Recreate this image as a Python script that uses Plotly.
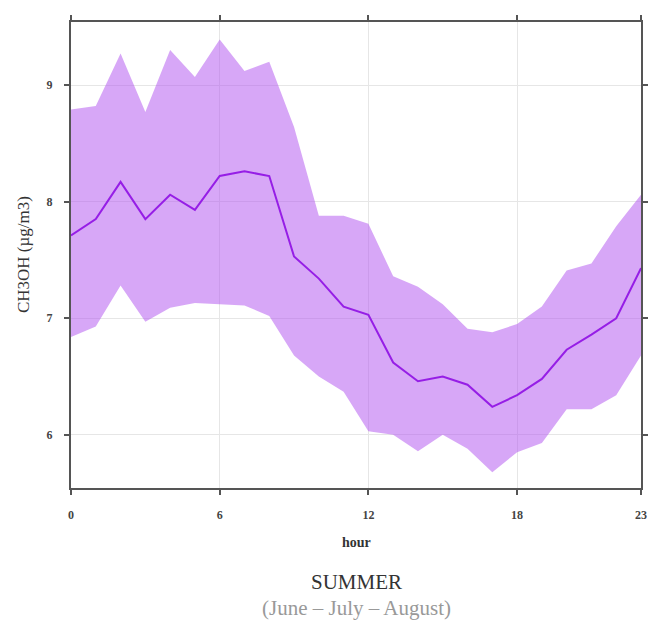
import plotly.graph_objects as go

hours = list(range(24))
mean_vals = [7.71, 7.85, 8.17, 7.85, 8.06, 7.93, 8.22, 8.26, 8.22, 7.53, 7.34, 7.10,
             7.03, 6.62, 6.46, 6.50, 6.43, 6.24, 6.34, 6.48, 6.73, 6.86, 7.00, 7.43]
upper_vals = [8.79, 8.82, 9.27, 8.77, 9.30, 9.07, 9.39, 9.12, 9.20, 8.64, 7.88, 7.88,
              7.81, 7.36, 7.27, 7.12, 6.91, 6.88, 6.95, 7.10, 7.41, 7.47, 7.79, 8.06]
lower_vals = [6.84, 6.93, 7.28, 6.97, 7.09, 7.13, 7.12, 7.11, 7.02, 6.68, 6.50, 6.37,
              6.03, 6.00, 5.86, 6.00, 5.88, 5.68, 5.85, 5.93, 6.22, 6.22, 6.34, 6.68]
x_ticks = [0, 6, 12, 18, 23]
y_ticks = [6, 7, 8, 9]

serif = "Liberation Serif, DejaVu Serif, serif"

fig = go.Figure()
fig.add_trace(go.Scatter(x=hours, y=upper_vals, mode="lines", line=dict(width=0),
                         showlegend=False, hoverinfo="skip"))
fig.add_trace(go.Scatter(x=hours, y=lower_vals, mode="lines", line=dict(width=0),
                         fill="tonexty", fillcolor="rgba(175,80,240,0.5)",
                         showlegend=False, hoverinfo="skip"))
fig.add_trace(go.Scatter(x=hours, y=mean_vals, mode="lines",
                         line=dict(color="rgb(150,30,230)", width=2),
                         showlegend=False))

axis_common = dict(showline=True, linecolor="#555555", linewidth=2, mirror="allticks",
                   ticks="outside", ticklen=5, tickwidth=1.5, tickcolor="#555555",
                   showgrid=True, gridcolor="#e6e6e6", gridwidth=1, zeroline=False,
                   tickfont=dict(family=serif, size=12, color="#444444", weight="bold"))

fig.update_xaxes(range=[0, 23], tickvals=x_ticks, ticktext=[str(v) for v in x_ticks],
                 ticklabelstandoff=10, **axis_common)
fig.update_yaxes(range=[5.544, 9.541], tickvals=y_ticks, ticktext=[str(v) for v in y_ticks],
                 ticklabelstandoff=9, **axis_common)

# page body has an 8px default margin; compensate so the plot area lands at l=71,t=15
fig.update_layout(
    width=659, height=628,
    margin=dict(l=63, r=26, t=7, b=148),
    paper_bgcolor="white", plot_bgcolor="white",
    annotations=[
        dict(text="CH3OH (µg/m3)", x=-0.084, y=0.5, xref="paper", yref="paper",
             textangle=-90, showarrow=False, xanchor="center", yanchor="middle",
             font=dict(family=serif, size=17, color="#333333")),
        dict(text="<b>hour</b>", x=0.5, y=-0.1163, xref="paper", yref="paper",
             showarrow=False, xanchor="center", yanchor="middle",
             font=dict(family=serif, size=14, color="#333333")),
        dict(text="SUMMER", x=0.5, y=-0.2008, xref="paper", yref="paper",
             showarrow=False, xanchor="center", yanchor="middle",
             font=dict(family=serif, size=21, color="#333333")),
        dict(text="(June – July – August)", x=0.5, y=-0.258, xref="paper", yref="paper",
             showarrow=False, xanchor="center", yanchor="middle",
             font=dict(family=serif, size=21, color="#999999")),
    ],
)

fig.write_html("out.html")
